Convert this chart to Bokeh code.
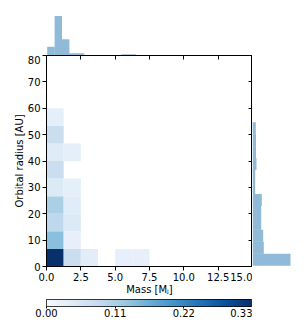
import numpy as np
from bokeh.plotting import figure
from bokeh.models import (Range1d, LinearAxis, FixedTicker, LinearColorMapper,
                          ColumnDataSource, PrintfTickFormatter)
from bokeh.layouts import column, row
from bokeh.palettes import Blues256
from bokeh.embed import file_html
from bokeh.resources import INLINE

# ---------------- data ----------------
# 2D histogram bin edges
mass_edges = [0.0, 1.25, 2.5, 3.75, 5.0, 6.25, 7.5, 8.75, 10.0, 11.25, 12.5, 13.75, 15.0]
radius_edges = [0.0, 6.667, 13.333, 20.0, 26.667, 33.333, 40.0, 46.667, 53.333, 60.0,
                66.667, 73.333, 80.0]
# fraction of planets per cell; rows = radius bins (bottom->top), cols = mass bins
frac_r0 = [0.330, 0.075, 0.035, 0.0, 0.028, 0.028]
frac_r1 = [0.140, 0.028, 0.0, 0.0, 0.0, 0.0]
frac_r2 = [0.090, 0.045, 0.0, 0.0, 0.0, 0.0]
frac_r3 = [0.110, 0.038, 0.0, 0.0, 0.0, 0.0]
frac_r4 = [0.045, 0.030, 0.0, 0.0, 0.0, 0.0]
frac_r5 = [0.075, 0.0, 0.0, 0.0, 0.0, 0.0]
frac_r6 = [0.040, 0.030, 0.0, 0.0, 0.0, 0.0]
frac_r7 = [0.075, 0.0, 0.0, 0.0, 0.0, 0.0]
frac_r8 = [0.030, 0.0, 0.0, 0.0, 0.0, 0.0]
frac_rows = [frac_r0, frac_r1, frac_r2, frac_r3, frac_r4, frac_r5, frac_r6, frac_r7, frac_r8]

# marginal histogram of mass (top)
mass_hist_edges = [0.05, 0.59, 1.13, 1.67, 2.21, 2.75, 3.29, 3.83, 4.37, 4.91, 5.45, 5.99, 6.53]
mass_hist = [0.088, 0.395, 0.162, 0.023, 0.023, 0.0, 0.0, 0.0, 0.0, 0.0, 0.012, 0.012]

# marginal histogram of orbital radius (right)
radius_hist_edges = [0.3, 4.83, 9.37, 13.9, 18.43, 22.97, 27.5, 32.03, 36.57, 41.1,
                     45.63, 50.17, 54.7]
radius_hist = [0.38, 0.113, 0.107, 0.087, 0.087, 0.093, 0.027, 0.027, 0.040, 0.035,
               0.035, 0.033]

x_ticks = [0.0, 2.5, 5.0, 7.5, 10.0, 12.5, 15.0]
y_ticks = [0, 10, 20, 30, 40, 50, 60, 70, 80]
cbar_ticks = [0.0, 0.11, 0.22, 0.33]
cbar_max = 0.33

# ---------------- style ----------------
FONT = "DejaVu Sans"
HIST_COLOR = "#1f77b4"
pal = list(Blues256)
if pal[0].lower() < pal[-1].lower():  # make sure light -> dark
    pal = pal[::-1]
mapper = LinearColorMapper(palette=pal, low=0.0, high=cbar_max)

LEFT = 46
FW, FH = 206, 211
BOTTOM = 33

# ---------------- main 2D histogram ----------------
x_range = Range1d(0, 15)
y_range = Range1d(0, 80)

p = figure(width=LEFT + FW, height=FH + BOTTOM, x_range=x_range, y_range=y_range,
           output_backend="svg", toolbar_location=None,
           min_border_left=LEFT, min_border_right=0, min_border_top=0,
           min_border_bottom=BOTTOM)
left, right, bottom, top, val = [], [], [], [], []
for i, r in enumerate(frac_rows):
    for j, v in enumerate(r):
        if v > 0:
            left.append(mass_edges[j]); right.append(mass_edges[j + 1])
            bottom.append(radius_edges[i]); top.append(radius_edges[i + 1])
            val.append(v)
src = ColumnDataSource(dict(left=left, right=right, bottom=bottom, top=top, val=val))
p.quad(left="left", right="right", bottom="bottom", top="top", source=src,
       fill_color={"field": "val", "transform": mapper}, line_color=None)

p.xgrid.visible = False
p.ygrid.visible = False
p.outline_line_color = "black"
p.outline_line_width = 1
p.outline_line_alpha = 1
p.background_fill_color = "white"
p.border_fill_color = "white"

p.xaxis.ticker = FixedTicker(ticks=x_ticks)
p.xaxis.formatter = PrintfTickFormatter(format="%.1f")
p.yaxis.ticker = FixedTicker(ticks=y_ticks)
p.xaxis.axis_label = "Mass [M\u2c7c]"
p.yaxis.axis_label = "Orbital radius [AU]"
for ax in (p.xaxis, p.yaxis):
    ax.major_tick_out = 4
    ax.major_tick_in = 0
    ax.minor_tick_line_color = None
    ax.major_label_standoff = 2
    ax.axis_label_standoff = 0
    ax.major_label_text_font = FONT
    ax.major_label_text_font_size = "10px"
    ax.major_label_text_color = "black"
    ax.axis_label_text_font = FONT
    ax.axis_label_text_font_size = "10px"
    ax.axis_label_text_font_style = "normal"
    ax.axis_label_text_color = "black"
    ax.axis_line_color = "black"
    ax.major_tick_line_color = "black"

# inward ticks on top and right spines (no labels)
top_ax = LinearAxis(ticker=FixedTicker(ticks=x_ticks), major_label_text_font_size="0px",
                    major_label_overrides={t: "" for t in x_ticks},
                    major_tick_in=4, major_tick_out=0, major_label_standoff=0,
                    minor_tick_line_color=None, axis_line_color="black")
right_ax = LinearAxis(ticker=FixedTicker(ticks=y_ticks), major_label_text_font_size="0px",
                      major_label_overrides={t: "" for t in y_ticks},
                      major_tick_in=4, major_tick_out=0, major_label_standoff=0,
                      minor_tick_line_color=None, axis_line_color="black")
p.add_layout(top_ax, "above")
p.add_layout(right_ax, "right")

# ---------------- top marginal histogram ----------------
pt = figure(width=LEFT + FW, height=55, x_range=x_range, y_range=Range1d(0, 0.45),
            output_backend="svg", toolbar_location=None,
            min_border_left=LEFT, min_border_right=0, min_border_top=10, min_border_bottom=0)
pt.quad(left=mass_hist_edges[:-1], right=mass_hist_edges[1:], bottom=0, top=mass_hist,
        fill_color=HIST_COLOR, fill_alpha=0.5, line_color=None)
pt.axis.visible = False
pt.xgrid.visible = False
pt.ygrid.visible = False
pt.outline_line_color = None

# ---------------- right marginal histogram ----------------
pr = figure(width=41, height=FH + BOTTOM, x_range=Range1d(0, 0.41), y_range=y_range,
            output_backend="svg", toolbar_location=None,
            min_border_left=0, min_border_right=0, min_border_top=0,
            min_border_bottom=BOTTOM)
pr.quad(left=0, right=radius_hist, bottom=radius_hist_edges[:-1], top=radius_hist_edges[1:],
        fill_color=HIST_COLOR, fill_alpha=0.5, line_color=None)
pr.axis.visible = False
pr.xgrid.visible = False
pr.ygrid.visible = False
pr.outline_line_color = None

# ---------------- colorbar ----------------
pc = figure(width=LEFT + FW, height=21, x_range=Range1d(0, cbar_max), y_range=Range1d(0, 1),
            output_backend="svg", toolbar_location=None,
            min_border_left=LEFT, min_border_right=0, min_border_top=0, min_border_bottom=14)
grad = np.linspace(0.0, cbar_max, 256).reshape(1, -1)
pc.image(image=[grad], x=0, y=0, dw=cbar_max, dh=1, color_mapper=mapper)
pc.xgrid.visible = False
pc.ygrid.visible = False
pc.yaxis.visible = False
pc.outline_line_color = "black"
pc.xaxis.ticker = FixedTicker(ticks=cbar_ticks)
pc.xaxis.formatter = PrintfTickFormatter(format="%.2f")
pc.xaxis.major_tick_out = 2
pc.xaxis.major_tick_in = 0
pc.xaxis.minor_tick_line_color = None
pc.xaxis.major_label_standoff = 0
pc.xaxis.axis_line_color = None
pc.xaxis.major_tick_line_color = "black"
pc.xaxis.major_label_text_font = FONT
pc.xaxis.major_label_text_font_size = "10px"
pc.xaxis.major_label_text_color = "black"

layout = column(pt, row(p, pr), pc)
open("out.html", "w").write(file_html(layout, INLINE))
